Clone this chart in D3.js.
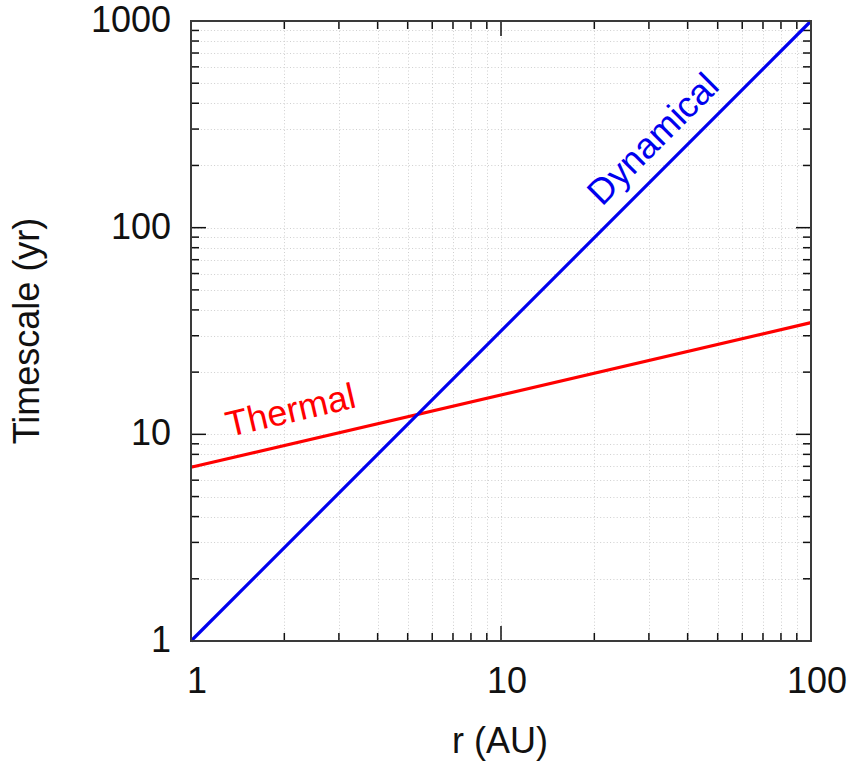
<!DOCTYPE html>
<html>
<head>
<meta charset="utf-8">
<script src="https://cdn.jsdelivr.net/npm/d3@7"></script>
<style>
  body { margin: 0; background: #fff; }
  svg { display: block; }
  text { font-family: "Liberation Sans", Arial, sans-serif; }
</style>
</head>
<body>
<svg id="chart" width="850" height="762"></svg>
<script>
// ---- data ----
const radius = [1, 100];              // r (AU)
const dynamical = [1, 1000];          // yr
const thermal = [6.93, 34.7];         // yr
const xMajorTicks = [1, 10, 100];
const yMajorTicks = [1, 10, 100, 1000];
const xTickLabels = ["1", "10", "100"];
const yTickLabels = ["1", "10", "100", "1000"];
const seriesNames = ["Dynamical", "Thermal"];
const xTitle = "r (AU)";
const yTitle = "Timescale (yr)";

// ---- layout ----
const L = 191, R = 811, T = 21, B = 641;
const svg = d3.select("#chart");

const x = d3.scaleLog().domain([1, 100]).range([L, R]);
const y = d3.scaleLog().domain([1, 1000]).range([B, T]);

function minorTicks(domain) {
  const out = [];
  for (let d = domain[0]; d < domain[1]; d *= 10)
    for (let k = 2; k <= 9; k++) out.push(d * k);
  return out;
}
const xMinor = minorTicks(x.domain());
const yMinor = minorTicks(y.domain());

// grid
const grid = svg.append("g").attr("stroke", "#cfcfcf").attr("stroke-width", 1)
  .attr("stroke-dasharray", "1,2.3");
grid.selectAll(".gx").data(xMinor.concat(xMajorTicks.slice(1, -1))).join("line")
  .attr("x1", d => Math.round(x(d)) + 0.5).attr("x2", d => Math.round(x(d)) + 0.5)
  .attr("y1", T).attr("y2", B);
grid.selectAll(".gy").data(yMinor.concat(yMajorTicks.slice(1, -1))).join("line")
  .attr("y1", d => Math.round(y(d)) + 0.5).attr("y2", d => Math.round(y(d)) + 0.5)
  .attr("x1", L).attr("x2", R);

// ticks (inward, all four sides)
const ticks = svg.append("g").attr("stroke", "#111").attr("stroke-width", 1.5);
const majLen = 15, minLen = 8;
function xt(vals, len) {
  vals.forEach(v => {
    const px = x(v);
    ticks.append("line").attr("x1", px).attr("x2", px).attr("y1", B).attr("y2", B - len);
    ticks.append("line").attr("x1", px).attr("x2", px).attr("y1", T).attr("y2", T + len);
  });
}
function yt(vals, len) {
  vals.forEach(v => {
    const py = y(v);
    ticks.append("line").attr("y1", py).attr("y2", py).attr("x1", L).attr("x2", L + len);
    ticks.append("line").attr("y1", py).attr("y2", py).attr("x1", R).attr("x2", R - len);
  });
}
xt(xMinor, minLen); xt(xMajorTicks, majLen);
yt(yMinor, minLen); yt(yMajorTicks, majLen);

// series lines
const line = d3.line().x((d, i) => x(radius[i])).y(d => y(d));
svg.append("path").datum(thermal).attr("d", line)
  .attr("fill", "none").attr("stroke", "#ff0000").attr("stroke-width", 3.2);
svg.append("path").datum(dynamical).attr("d", line)
  .attr("fill", "none").attr("stroke", "#0000ee").attr("stroke-width", 3.2);

// frame
svg.append("rect").attr("x", L).attr("y", T).attr("width", R - L).attr("height", B - T)
  .attr("fill", "none").attr("stroke", "#3a3a3a").attr("stroke-width", 2);

// tick labels
const fs = 36;
svg.append("g").selectAll("text").data(xMajorTicks).join("text")
  .attr("x", d => x(d) + 6).attr("y", 693)
  .attr("text-anchor", "middle").attr("font-size", fs).attr("fill", "#111")
  .text((d, i) => xTickLabels[i]);
svg.append("g").selectAll("text").data(yMajorTicks).join("text")
  .attr("x", 171).attr("y", d => y(d) + 11)
  .attr("text-anchor", "end").attr("font-size", fs).attr("fill", "#111")
  .text((d, i) => yTickLabels[i]);

// axis titles
svg.append("text").attr("x", 500).attr("y", 753).attr("text-anchor", "middle")
  .attr("font-size", fs).attr("fill", "#111").text(xTitle);
svg.append("text").attr("transform", "translate(39,331) rotate(-90)")
  .attr("text-anchor", "middle").attr("font-size", fs).attr("fill", "#111").text(yTitle);

// series labels, aligned with lines
const angD = Math.atan2(y(dynamical[1]) - y(dynamical[0]), x(radius[1]) - x(radius[0])) * 180 / Math.PI;
const angT = Math.atan2(y(thermal[1]) - y(thermal[0]), x(radius[1]) - x(radius[0])) * 180 / Math.PI;
svg.append("text").attr("transform", `translate(602,207) rotate(${angD})`)
  .attr("font-size", fs).attr("fill", "#0000ee").text(seriesNames[0]);
svg.append("text").attr("transform", `translate(229,437) rotate(${angT})`)
  .attr("font-size", fs).attr("fill", "#ff0000").text(seriesNames[1]);
</script>
</body>
</html>
